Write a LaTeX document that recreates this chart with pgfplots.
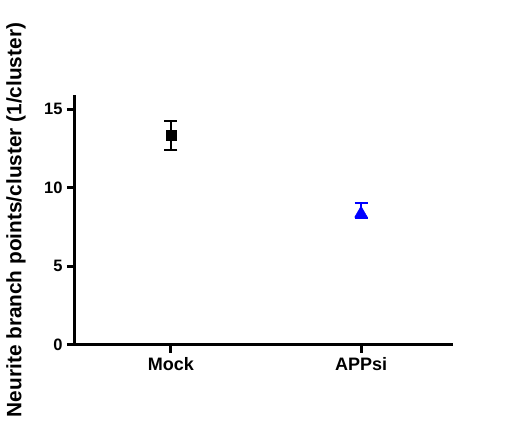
\documentclass[border=0pt]{standalone}
\usepackage{pgfplots}
\pgfplotsset{compat=1.18}
\usepackage{fontspec}
\setmainfont{Liberation Sans}
\begin{document}
\begin{tikzpicture}
\path[use as bounding box] (-75pt,-90pt) rectangle (430pt,345pt);
\begin{axis}[
  scale only axis,
  width=378pt, height=250pt,
  xmin=-0.505, xmax=1.484,
  ymin=0, ymax=15.9,
  axis x line*=bottom, axis y line*=left,
  axis line style={line width=3pt},
  xtick={0,1}, xticklabels={Mock,APPsi},
  ytick={0,5,10,15},
  tick style={line width=3pt, black},
  major tick style={line width=3pt, black},
  major tick length=8pt,
  tick align=outside,
  /pgf/number format/assume math mode=true,
  x tick label style={font=\fontsize{18}{20}\selectfont\bfseries, yshift=-1pt},
  y tick label style={font=\fontsize{16.5}{18}\selectfont\bfseries, xshift=-1pt},
  ylabel={Neurite branch points/cluster (1/cluster)},
  every axis y label/.style={at={(axis description cs:0,0.5)}, xshift=-59pt, yshift=0pt, rotate=90, anchor=center, font=\fontsize{20.8}{22}\selectfont\bfseries},
  clip=false,
]
\addplot[black, only marks, mark=square*, mark size=5pt,
  error bars/.cd, y dir=both, y explicit,
  error bar style={line width=2.2pt},
  error mark options={rotate=90, mark size=6.5pt, line width=2.2pt}]
  coordinates {(0,13.32) +- (0,0.92)};
\addplot[blue, only marks, mark=triangle*, mark size=7.3pt,
  mark options={yshift=-3.2pt},
  error bars/.cd, y dir=both, y explicit,
  error bar style={line width=2.2pt},
  error mark options={rotate=90, mark size=6.5pt, line width=2.2pt}]
  coordinates {(1,8.57) +- (0,0.47)};
\end{axis}
\end{tikzpicture}
\end{document}
